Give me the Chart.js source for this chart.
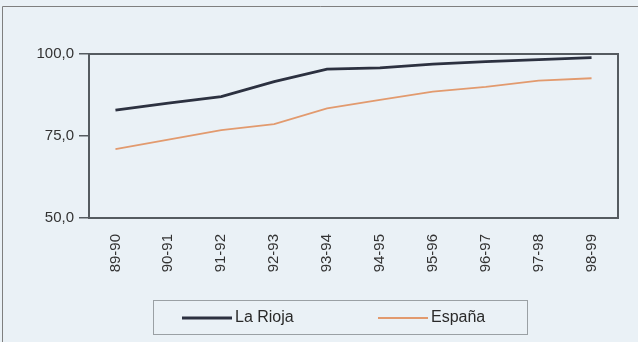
<!DOCTYPE html>
<html>
<head>
<meta charset="utf-8">
<script src="https://cdn.jsdelivr.net/npm/chart.js@4"></script>
<style>
  html, body { margin: 0; padding: 0; background: #eaf1f6; }
  #wrap { width: 638px; height: 342px; position: relative; }
</style>
</head>
<body>
<div id="wrap"><canvas id="canvas" width="638" height="342"></canvas></div>
<script>
const cursos = ['89-90', '90-91', '91-92', '92-93', '93-94', '94-95', '95-96', '96-97', '97-98', '98-99'];
const laRioja = [82.9, 85.0, 87.0, 91.6, 95.4, 95.8, 96.9, 97.7, 98.3, 98.9];
const espana = [71.0, 73.9, 76.8, 78.6, 83.4, 86.0, 88.5, 90.0, 91.9, 92.6];
const yTicks = [50, 75, 100];

const FONT = 'Liberation Sans, Arial, sans-serif';

// frame around the plot, the page border and the boxed legend
const framePlugin = {
  id: 'frame',
  beforeDatasetsDraw(chart) {
    const ctx = chart.ctx;
    ctx.save();
    ctx.strokeStyle = '#7f7f7f';
    ctx.lineWidth = 1;
    ctx.beginPath();
    ctx.moveTo(2.5, 342);
    ctx.lineTo(2.5, 6.5);
    ctx.lineTo(638, 6.5);
    ctx.stroke();
    ctx.restore();
  },
  afterDatasetsDraw(chart) {
    const ctx = chart.ctx, a = chart.chartArea;
    ctx.save();
    ctx.strokeStyle = '#555b60';
    ctx.lineWidth = 2;
    ctx.strokeRect(a.left, a.top, a.right - a.left, a.bottom - a.top);
    ctx.restore();
  },
  afterDraw(chart) {
    const ctx = chart.ctx;
    ctx.save();
    ctx.strokeStyle = '#9aa0a4';
    ctx.lineWidth = 1;
    ctx.strokeRect(153.5, 300.5, 374, 34);
    ctx.font = '16px ' + FONT;
    ctx.textBaseline = 'middle';
    const xs = [182, 378];
    chart.data.datasets.forEach((ds, i) => {
      const y = 318;
      ctx.strokeStyle = ds.borderColor;
      ctx.lineWidth = ds.borderWidth;
      ctx.beginPath();
      ctx.moveTo(xs[i], y);
      ctx.lineTo(xs[i] + 50, y);
      ctx.stroke();
      ctx.fillStyle = '#2a2a2a';
      ctx.fillText(ds.label, xs[i] + 53, y);
    });
    ctx.restore();
  }
};

new Chart(document.getElementById('canvas'), {
  type: 'line',
  data: {
    labels: cursos,
    datasets: [
      { label: 'La Rioja', data: laRioja, borderColor: '#2c3140', borderWidth: 2.8, pointRadius: 0, tension: 0 },
      { label: 'España', data: espana, borderColor: '#e29a6e', borderWidth: 1.8, pointRadius: 0, tension: 0 }
    ]
  },
  options: {
    responsive: false,
    animation: false,
    layout: { padding: { left: 0, top: 54, right: 20, bottom: 0 } },
    plugins: { legend: { display: false }, tooltip: { enabled: false } },
    scales: {
      x: {
        offset: true,
        border: { display: false },
        grid: { display: false },
        ticks: {
          minRotation: 90, maxRotation: 90, padding: 8,
          color: '#333', font: { family: FONT, size: 15 }
        },
        afterFit(scale) { scale.height = 124; }
      },
      y: {
        min: 50, max: 100,
        afterBuildTicks(scale) { scale.ticks = yTicks.map(v => ({ value: v })); },
        border: { display: false },
        grid: { drawOnChartArea: false, tickLength: 10, color: '#555b60', lineWidth: 1.5 },
        ticks: {
          padding: 5, color: '#333', font: { family: FONT, size: 15 },
          callback: v => v.toFixed(1).replace('.', ',')
        },
        afterFit(scale) { scale.width = 89; }
      }
    }
  },
  plugins: [framePlugin]
});
</script>
</body>
</html>
